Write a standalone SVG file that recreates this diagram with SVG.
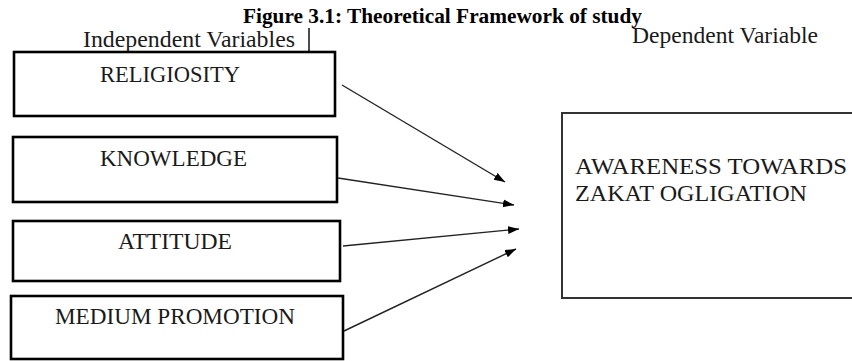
<svg xmlns="http://www.w3.org/2000/svg" width="852" height="361" viewBox="0 0 852 361">
<style>
text{font-family:"Liberation Serif",serif;fill:#1a1a1a;font-size:23.5px}
.title{font-weight:bold;font-size:20.5px;fill:#000}
.box{fill:#fff;stroke:#000;stroke-width:2.6}
.dep{fill:#fff;stroke:#333;stroke-width:2}
.conn{stroke:#222;stroke-width:1.4;fill:none}
</style>
<defs>
<marker id="arr" markerUnits="userSpaceOnUse" markerWidth="12" markerHeight="9" refX="11" refY="4" orient="auto">
<path d="M0,0 L11,4 L0,8 z" fill="#000"/>
</marker>
</defs>
<text class="title" x="243" y="23" textLength="399" lengthAdjust="spacingAndGlyphs">Figure 3.1: Theoretical  Framework  of study</text>
<text x="83" y="47" textLength="212" lengthAdjust="spacingAndGlyphs">Independent Variables</text>
<line x1="309" y1="28" x2="309" y2="52" stroke="#000" stroke-width="1.4"/>
<text x="632" y="43" textLength="186" lengthAdjust="spacingAndGlyphs">Dependent Variable</text>
<g id="religiosity">
<rect class="box" x="14" y="52" width="321" height="64"/>
<text x="100" y="82" textLength="140" lengthAdjust="spacingAndGlyphs">RELIGIOSITY</text>
</g>
<g id="knowledge">
<rect class="box" x="13" y="137" width="324" height="65"/>
<text x="100" y="166" textLength="147" lengthAdjust="spacingAndGlyphs">KNOWLEDGE</text>
</g>
<g id="attitude">
<rect class="box" x="13" y="221" width="327" height="60"/>
<text x="118" y="249" textLength="114" lengthAdjust="spacingAndGlyphs">ATTITUDE</text>
</g>
<g id="medium">
<rect class="box" x="11" y="296" width="332" height="63"/>
<text x="55" y="324" textLength="240" lengthAdjust="spacingAndGlyphs">MEDIUM PROMOTION</text>
</g>
<g id="awareness">
<rect class="dep" x="562" y="113" width="300" height="185"/>
<text x="575" y="174" textLength="272" lengthAdjust="spacingAndGlyphs">AWARENESS  TOWARDS</text>
<text x="575" y="201" textLength="232" lengthAdjust="spacingAndGlyphs">ZAKAT OGLIGATION</text>
</g>
<g id="connectors">
<line class="conn" x1="342" y1="85" x2="505" y2="182" marker-end="url(#arr)"/>
<line class="conn" x1="338" y1="178" x2="514" y2="205" marker-end="url(#arr)"/>
<line class="conn" x1="343" y1="246" x2="519" y2="229" marker-end="url(#arr)"/>
<line class="conn" x1="344" y1="331" x2="516" y2="249" marker-end="url(#arr)"/>
</g>
</svg>
